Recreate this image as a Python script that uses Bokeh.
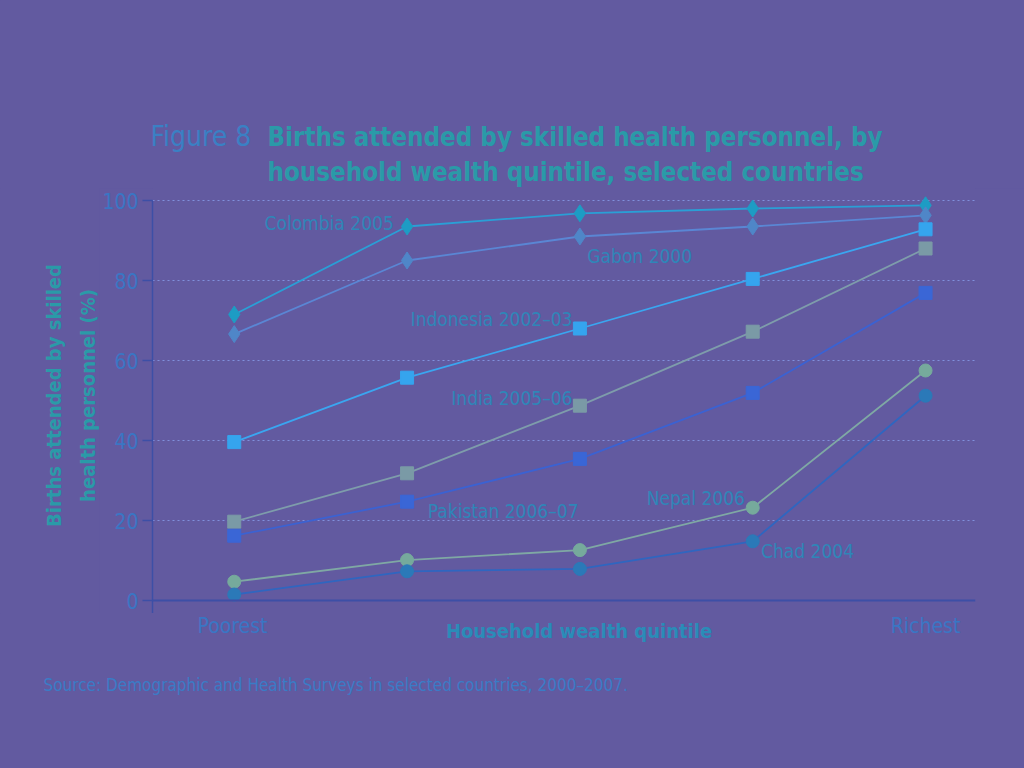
from bokeh.plotting import figure
from bokeh.models import Range1d, Label, Span, FixedTicker
from bokeh.layouts import column, row
from bokeh.core.properties import value
from bokeh.embed import file_html
from bokeh.resources import INLINE
import math

# ---- data ----
quintiles = [1, 2, 3, 4, 5]
quintile_labels = {1: "Poorest", 5: "Richest"}
colombia = [71.5, 93.5, 96.8, 98.0, 98.8]
gabon = [66.6, 85.0, 91.0, 93.5, 96.3]
indonesia = [39.6, 55.7, 68.0, 80.4, 92.8]
india = [19.7, 31.8, 48.7, 67.2, 88.0]
pakistan = [16.2, 24.7, 35.4, 51.9, 76.9]
nepal = [4.7, 10.1, 12.6, 23.2, 57.5]
chad = [1.5, 7.3, 7.9, 14.8, 51.2]
series_names = ["Colombia 2005", "Gabon 2000", "Indonesia 2002\u201303", "India 2005\u201306",
                "Pakistan 2006\u201307", "Nepal 2006", "Chad 2004"]
y_ticks = [0, 20, 40, 60, 80, 100]
title_prefix = "Figure 8"
title_lines = ["Births attended by skilled health personnel, by",
               "household wealth quintile, selected countries"]
y_label_lines = ["Births attended by skilled", "health personnel (%)"]
x_label = "Household wealth quintile"
source_text = "Source: Demographic and Health Surveys in selected countries, 2000\u20132007."

FONT = "'DejaVu Sans Condensed', 'Liberation Sans Narrow', sans-serif"
BG = "#625aa0"
TXT = "#2f86b8"
TEAL = "#2a9aa8"
TICK_TXT = "#3a76c4"

W, H = 1024, 768
TOP_H, MAIN_H = 188, 425
BOT_H = H - TOP_H - MAIN_H
LEFT_W = 99
MAIN_W = W - LEFT_W
PX_PER_Q = 173.25       # pixels per quintile step
X_POOREST_PX = 232      # page x of first quintile


def aux_fig(w, h, xr, yr):
    f = figure(width=w, height=h, output_backend="svg", toolbar_location=None,
               x_range=xr, y_range=yr, min_border=0,
               x_axis_location=None, y_axis_location=None)
    f.grid.visible = False
    f.outline_line_color = None
    f.border_fill_color = BG
    f.background_fill_color = BG
    return f


# ---------------- top: title ----------------
top = aux_fig(W, TOP_H, Range1d(0, W), Range1d(TOP_H, 0))
top.add_layout(Label(x=150, y=136, text=title_prefix, text_font=FONT, text_font_size="28px",
                     text_color="#3a80c4", text_baseline="alphabetic"))
for i, t in enumerate(title_lines):
    top.add_layout(Label(x=267, y=136 + 35 * i, text=t, text_font=FONT, text_font_size="25.7px",
                         text_font_style="bold", text_color=TEAL, text_baseline="alphabetic"))

# ---------------- left: y axis title ----------------
left = aux_fig(LEFT_W, MAIN_H, Range1d(0, LEFT_W), Range1d(TOP_H + MAIN_H, TOP_H))
for i, t in enumerate(y_label_lines):
    left.add_layout(Label(x=53 + 34 * i, y=395, text=t, angle=math.pi / 2,
                          text_align="center", text_baseline="middle",
                          text_font=FONT, text_font_size="20px", text_font_style="bold",
                          text_color=TEAL))

# ---------------- main plot ----------------
p = figure(width=MAIN_W, height=MAIN_H, output_backend="svg", toolbar_location=None,
           x_range=Range1d(0.527, 5.289), y_range=Range1d(-3.25, 103),
           x_axis_location=None,
           min_border_left=51, min_border_right=49, min_border_top=0, min_border_bottom=0)
p.border_fill_color = BG
p.background_fill_color = BG
p.outline_line_color = None

p.xgrid.visible = False
p.ygrid.ticker = FixedTicker(ticks=[20, 40, 60, 80, 100])
p.ygrid.grid_line_color = "#8090dc"
p.ygrid.grid_line_dash = "2 3"
p.ygrid.grid_line_width = 1

ya = p.yaxis[0]
ya.ticker = FixedTicker(ticks=y_ticks)
ya.bounds = (-3.25, 100)
ya.axis_line_color = "#3d4fa6"
ya.axis_line_width = 1.5
ya.major_tick_line_color = "#3d4fa6"
ya.major_tick_line_width = 1.5
ya.major_tick_out = 10
ya.major_tick_in = 0
ya.minor_tick_line_color = None
ya.major_label_text_font = FONT
ya.major_label_text_font_size = "21px"
ya.major_label_text_color = TICK_TXT
ya.major_label_standoff = 4

p.add_layout(Span(location=0, dimension="width", line_color="#3d4fa6", line_width=2))

specs = [
    (colombia, "#2a9fd6", "#1d9cc4", "diamond"),
    (gabon, "#5a86d4", "#4f86c8", "diamond"),
    (indonesia, "#3aa6f0", "#35a4ee", "square"),
    (india, "#7e9cab", "#7a9aa6", "square"),
    (pakistan, "#3b62d2", "#3a66d6", "square"),
    (nepal, "#7fa8a4", "#76aa9c", "circle"),
    (chad, "#2f66c0", "#2b79b8", "circle"),
]
for vals, lc, mc, mk in specs:
    p.line(quintiles, vals, line_color=lc, line_width=1.8)
    size = 17 if mk == "diamond" else 13
    p.scatter(quintiles, vals, marker=mk, size=size, fill_color=mc, line_color=mc)

lab_pos = [(1.923, 94.5, "right"), (3.043, 86.25, "left"), (2.957, 70.5, "right"),
           (2.957, 50.75, "right"), (2.12, 22.5, "left"), (3.955, 25.75, "right"),
           (4.048, 12.5, "left")]
for name, (lx, ly, al) in zip(series_names, lab_pos):
    p.add_layout(Label(x=lx, y=ly, text=name, text_align=al, text_baseline="middle",
                       text_font=FONT, text_font_size="19px", text_color=TXT))

# ---------------- bottom: x labels and source ----------------
x0 = 1 - X_POOREST_PX / PX_PER_Q
x1 = 1 + (W - X_POOREST_PX) / PX_PER_Q
bot = aux_fig(W, BOT_H, Range1d(x0, x1), Range1d(H, TOP_H + MAIN_H))
ends = [quintiles[0], quintiles[-1]]
bot.text(x=ends, y=[625, 625], text=[quintile_labels[q] for q in ends],
         text_align="center", text_baseline="middle", text_font=value(FONT),
         text_font_size="21px", text_color=TICK_TXT)
bot.add_layout(Label(x=quintiles[2], y=630, text=x_label, text_align="center",
                     text_baseline="middle", text_font=FONT, text_font_size="20px",
                     text_font_style="bold", text_color="#2a8cb8"))
bot.add_layout(Label(x=43, y=H - 684, x_units="screen", y_units="screen", text=source_text,
                     text_baseline="middle", text_font=FONT, text_font_size="17px",
                     text_color="#3a7cc6"))

layout = column(top, row(left, p), bot)
html = file_html(layout, INLINE)
html = html.replace("</head>", "<style>html, body { background: %s; }</style></head>" % BG, 1)
open("out.html", "w").write(html)
